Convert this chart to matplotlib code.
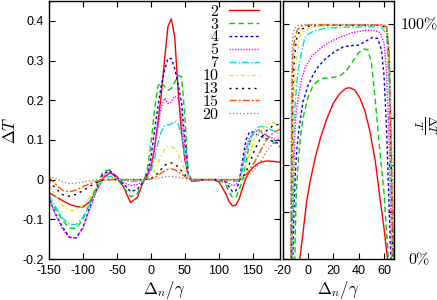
import matplotlib
matplotlib.use("Agg")
import matplotlib.pyplot as plt

plt.rcParams['font.family'] = ['Liberation Sans', 'DejaVu Sans']
plt.rcParams['mathtext.fontset'] = 'cm'
plt.rcParams['axes.unicode_minus'] = False

# --- datos ---
n_vals = ['2', '3', '4', '5', '7', '10', '13', '15', '20']

# panel izquierdo: Delta T frente a Delta_n/gamma
dn = [-150, -140, -130, -120, -110, -100, -90, -80, -70, -60, -50, -40, -30, -20, -10,
      -5, 0, 5, 10, 15, 20, 25, 30, 35, 40, 45, 50, 55, 60,
      70, 80, 90, 100, 110, 115, 120, 125, 130, 135, 140, 145, 150, 155, 160,
      170, 180, 190]

dT_2 = [-0.033, -0.043, -0.053, -0.062, -0.068, -0.069, -0.056, -0.027, 0.004, 0.018, 0.008, -0.02, -0.058, -0.045, 0.0,
        0.012, 0.03, 0.075, 0.14, 0.21, 0.30, 0.385, 0.405, 0.36, 0.225, 0.12, 0.05, 0.01, -0.004,
        -0.003, 0.0, 0.0, -0.005, -0.035, -0.055, -0.066, -0.064, -0.048, -0.02, 0.005, 0.02, 0.03, 0.037, 0.043,
        0.047, 0.046, 0.044]
dT_3 = [-0.048, -0.075, -0.103, -0.122, -0.123, -0.1, -0.058, -0.015, 0.022, 0.024, 0.003, -0.02, -0.043, -0.035, -0.003,
        0.03, 0.09, 0.17, 0.235, 0.245, 0.235, 0.225, 0.23, 0.245, 0.262, 0.26, 0.16, 0.01, 0.0,
        0.0, 0.0, 0.0, 0.0, -0.012, -0.03, -0.045, -0.045, -0.025, 0.0, 0.045, 0.09, 0.115, 0.125, 0.125,
        0.112, 0.095, 0.082]
dT_4 = [-0.05, -0.087, -0.12, -0.145, -0.147, -0.12, -0.07, -0.022, 0.015, 0.022, 0.005, -0.012, -0.03, -0.025, -0.003,
        0.015, 0.055, 0.12, 0.18, 0.235, 0.275, 0.305, 0.305, 0.28, 0.24, 0.195, 0.1, 0.015, 0.0,
        0.0, 0.0, 0.0, 0.0, -0.006, -0.018, -0.03, -0.028, -0.005, 0.05, 0.1, 0.12, 0.12, 0.115, 0.11,
        0.103, 0.096, 0.09]
dT_5 = [-0.05, -0.09, -0.125, -0.146, -0.147, -0.122, -0.075, -0.028, 0.01, 0.016, 0.003, -0.008, -0.015, -0.012, -0.002,
        0.01, 0.035, 0.08, 0.13, 0.18, 0.205, 0.192, 0.195, 0.21, 0.205, 0.16, 0.08, 0.012, 0.0,
        0.0, 0.0, 0.0, 0.0, -0.003, -0.01, -0.015, -0.013, -0.002, 0.035, 0.08, 0.105, 0.118, 0.122, 0.12,
        0.112, 0.103, 0.097]
dT_7 = [-0.04, -0.07, -0.097, -0.113, -0.113, -0.095, -0.063, -0.025, 0.004, 0.008, 0.002, -0.002, -0.005, -0.004, -0.001,
        0.005, 0.02, 0.05, 0.09, 0.12, 0.135, 0.138, 0.14, 0.147, 0.14, 0.11, 0.06, 0.01, 0.0,
        0.0, 0.0, 0.0, 0.0, 0.0, -0.003, -0.005, -0.004, 0.0, 0.025, 0.07, 0.1, 0.115, 0.128, 0.134,
        0.132, 0.123, 0.115]
dT_10 = [-0.015, -0.04, -0.065, -0.078, -0.077, -0.065, -0.045, -0.018, -0.002, 0.003, 0.001, 0.0, 0.0, 0.0, 0.0,
         0.002, 0.008, 0.02, 0.04, 0.06, 0.075, 0.083, 0.083, 0.078, 0.065, 0.045, 0.025, 0.008, 0.0,
         0.0, 0.0, 0.0, 0.0, 0.0, 0.0, 0.0, 0.0, 0.0, 0.012, 0.035, 0.065, 0.09, 0.108, 0.122,
         0.138, 0.143, 0.14]
dT_13 = [-0.003, -0.022, -0.038, -0.042, -0.037, -0.028, -0.017, -0.007, -0.001, 0.0, 0.0, 0.0, 0.0, 0.0, 0.0,
         0.001, 0.003, 0.008, 0.016, 0.026, 0.035, 0.041, 0.042, 0.039, 0.032, 0.022, 0.012, 0.004, 0.0,
         0.0, 0.0, 0.0, 0.0, 0.0, 0.0, 0.0, 0.0, 0.0, 0.005, 0.02, 0.04, 0.063, 0.083, 0.1,
         0.123, 0.136, 0.14]
dT_15 = [0.006, -0.012, -0.027, -0.031, -0.026, -0.018, -0.01, -0.004, -0.001, 0.0, 0.0, 0.0, 0.0, 0.0, 0.0,
         0.001, 0.002, 0.005, 0.01, 0.016, 0.022, 0.026, 0.027, 0.025, 0.02, 0.014, 0.008, 0.002, 0.0,
         0.0, 0.0, 0.0, 0.0, 0.0, 0.0, 0.0, 0.0, 0.0, 0.003, 0.013, 0.024, 0.037, 0.052, 0.068,
         0.1, 0.118, 0.127]
dT_20 = [0.01, 0.002, -0.006, -0.01, -0.009, -0.006, -0.003, -0.001, 0.0, 0.0, 0.0, 0.0, 0.0, 0.0, 0.0,
         0.0, 0.001, 0.002, 0.003, 0.005, 0.007, 0.008, 0.008, 0.007, 0.006, 0.004, 0.002, 0.001, 0.0,
         0.0, 0.0, 0.0, 0.0, 0.0, 0.0, 0.0, 0.0, 0.0, 0.001, 0.005, 0.012, 0.02, 0.03, 0.042,
         0.07, 0.092, 0.105]

# panel derecho: Delta T / T en %
px_2 = [-7.5, -6.5, -4, -1, 2, 6, 10, 15, 20, 25, 30, 33, 37, 41, 45, 49, 53, 57, 60, 62.7, 63.5]
pc_2 = [-4, 0, 11, 25, 34, 44, 52, 60, 66.5, 70.5, 72.8, 73, 72, 68.5, 63, 54, 42, 25, 13, 0, -4]
px_3 = [-11, -10.5, -9.5, -8, -6, -4, 0, 4, 8, 12, 18, 24, 30, 35, 40, 44, 47, 50, 53, 56, 58, 60, 62, 63.5, 64]
pc_3 = [-5, 0, 25, 40, 52, 60, 69, 74, 76, 77, 77.3, 77.8, 80, 84, 88, 89.5, 89.3, 84, 68, 50, 39, 28, 11, 0, -5]
px_4 = [-12.5, -12, -11, -10, -9, -7, -4, 0, 4, 8, 14, 20, 28, 35, 40, 46, 51, 55, 58, 60, 62, 63.5, 65, 65.5, 66]
pc_4 = [-5, 0, 22, 37, 46, 56, 67, 74, 78.5, 82, 85.5, 88, 90.5, 91, 91.2, 93, 94.5, 94, 89, 78, 55, 30, 5, 0, -5]
px_5 = [-13, -12.5, -11.5, -10.5, -9.5, -8, -5, -2, 3, 10, 17, 25, 35, 45, 52, 57, 60, 62, 64, 65.5, 66, 66.5]
pc_5 = [-5, 0, 30, 52, 62, 68, 77, 82, 86.5, 90, 92.5, 94.5, 96.5, 97.5, 97.5, 96.5, 92, 80, 50, 15, 0, -5]
px_7 = [-13.3, -12.8, -12, -11, -9, -8, -6, -4, -2.4, 0, 5, 15, 30, 50, 58, 62, 64, 65.5, 66.3, 66.5, 67]
pc_7 = [-5, 0, 38, 60, 74, 80, 86, 91, 94.5, 95.8, 97.3, 98.5, 98.8, 99, 98.8, 96, 75, 35, 5, 0, -5]
px_10 = [-13.5, -13, -12.5, -11.5, -10, -8, -6.3, -3, 0, 10, 20, 58, 62, 64, 65.5, 66.5, 67, 67.5]
pc_10 = [-5, 0, 40, 68, 80, 90, 95.5, 97.5, 98.3, 99.3, 99.5, 99.5, 98, 80, 40, 5, 0, -5]
px_13 = [-13.7, -13.2, -12.7, -12, -11, -10, -8.5, -5, 0, 10, 58, 62, 64, 65.5, 66.8, 67.2, 67.7]
pc_13 = [-5, 0, 45, 72, 84, 90, 95.5, 98, 99.2, 99.7, 99.7, 98.5, 85, 45, 8, 0, -5]
px_15 = [-14, -13.5, -13, -12.5, -12, -11, -10, -8, -5, 0, 58, 62, 64, 65.5, 67, 67.5, 68]
pc_15 = [-5, 0, 45, 75, 86, 92, 95.5, 98, 99.3, 99.8, 99.8, 99, 88, 50, 10, 0, -5]
px_20 = [-14.3, -13.8, -13.5, -13, -12.5, -12, -11, -9, -5, 0, 58, 62, 64, 66, 67.5, 68, 68.5]
pc_20 = [-5, 0, 40, 75, 90, 95.5, 98, 99.3, 99.8, 100, 100, 99.5, 90, 50, 10, 0, -5]

left_curves = [dT_2, dT_3, dT_4, dT_5, dT_7, dT_10, dT_13, dT_15, dT_20]
right_x = [px_2, px_3, px_4, px_5, px_7, px_10, px_13, px_15, px_20]
right_y = [pc_2, pc_3, pc_4, pc_5, pc_7, pc_10, pc_13, pc_15, pc_20]

# estilos tipo gnuplot
colores = ['#ff0000', '#00d000', '#0000ff', '#ff00ff', '#00e0e0', '#e8e800', '#000000', '#ff5000', '#909090']
estilos = ['-', (0, (4, 2.5)), (0, (2, 1.8)), (0, (1, 1)), (0, (5, 1.5, 1, 1.5)),
           (0, (3, 2, 1, 2)), (0, (1.5, 3)), (0, (5, 1.5, 1.5, 1.5)), (0, (1, 1.5))]

fig = plt.figure(figsize=(4.37, 3.0), dpi=100)
ax1 = fig.add_axes([49/437, 41/300, 231/437, 258/300])
ax2 = fig.add_axes([282.7/437, 41/300, 111.5/437, 258/300])

for k in range(len(n_vals)):
    ax1.plot(dn, left_curves[k], color=colores[k], linestyle=estilos[k], lw=1.0,
             label=r'$%s$' % n_vals[k])
    ax2.plot(right_x[k], right_y[k], color=colores[k], linestyle=estilos[k], lw=1.0)

ax1.set_xlim(-150, 190)
ax1.set_ylim(-0.2, 0.45)
ax1.set_xticks([-150, -100, -50, 0, 50, 100, 150])
ax1.set_yticks([-0.2, -0.1, 0, 0.1, 0.2, 0.3, 0.4])
ax1.set_yticklabels(['-0.2', '-0.1', '0', '0.1', '0.2', '0.3', '0.4'])
ax1.set_xlabel(r'$\Delta_n/\gamma$', fontsize=12, labelpad=2)
ax1.set_ylabel(r'$\Delta T$', fontsize=12, labelpad=3)

ax2.set_xlim(-20, 68)
ax2.set_ylim(0, 110)
ax2.set_xticks([-20, 0, 20, 40, 60])
ax2.set_yticks([0, 20, 40, 60, 80, 100])
ax2.set_yticklabels([])
ax2.set_xlabel(r'$\Delta_n/\gamma$', fontsize=12, labelpad=2)
ax2.text(1.05, 100/110, r'$100\%$', transform=ax2.transAxes, ha='left', va='center', fontsize=11.5)
ax2.text(1.22, 0.0, r'$0\%$', transform=ax2.transAxes, ha='center', va='center', fontsize=11.5)
ax2.text(1.27, 0.52, r'$\frac{\Delta T}{T}$', transform=ax2.transAxes, ha='center', va='center',
         fontsize=12, rotation=270)

for ax in (ax1, ax2):
    ax.tick_params(direction='in', top=True, right=True, length=4, width=0.8, labelsize=9, pad=4)
    for s in ax.spines.values():
        s.set_linewidth(1.0)

leg = ax1.legend(loc='upper right', bbox_to_anchor=(0.91, 0.99), frameon=False, markerfirst=False,
                 fontsize=11.5, handlelength=1.9, handletextpad=0.6, labelspacing=-0.13,
                 borderpad=0, borderaxespad=0)

fig.savefig('out.png', dpi=100)
